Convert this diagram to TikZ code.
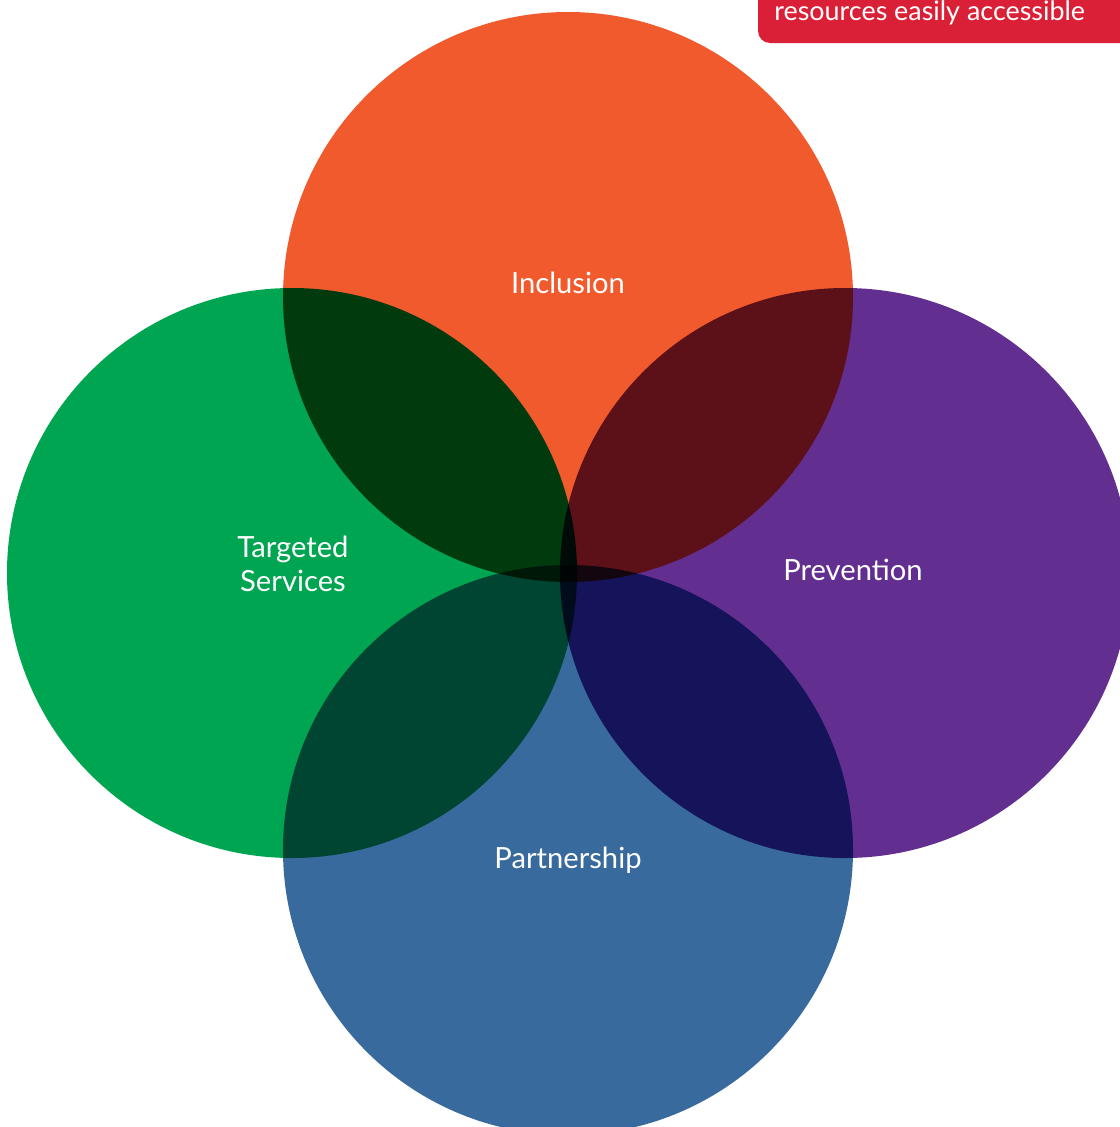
\documentclass[tikz,border=0pt]{standalone}
\usepackage{fontspec}
\setmainfont{Lato}
\definecolor{incorange}{RGB}{240,90,44}
\definecolor{tsgreen}{RGB}{0,165,81}
\definecolor{prevpurple}{RGB}{98,46,144}
\definecolor{partblue}{RGB}{57,106,158}
\definecolor{tagred}{RGB}{218,32,54}
\tikzset{
  petal/.style={circle,inner sep=0,outer sep=0,minimum size=114mm},
  petallabel/.style={text=white,font=\fontsize{16.6}{19.3}\selectfont,align=center,inner sep=0},
}

\begin{document}
\begin{tikzpicture}[x=0.2mm,y=-0.2mm]
	\useasboundingbox (0,0) rectangle (1120,1127);
	% the four circles, overlaps darkened by multiply
	\begin{scope}[blend group=multiply]
		\node[petal,fill=incorange] (inc) at (568,297) {};
		\node[petal,fill=tsgreen] (ts) at (292,573) {};
		\node[petal,fill=prevpurple] (prev) at (845,573) {};
		\node[petal,fill=partblue] (part) at (568,850) {};
	\end{scope}
	\node[petallabel] (inclabel) at (568,283) {Inclusion};
	\node[petallabel] (tslabel) at (293,564) {Targeted\\Services};
	\node[petallabel] (prevlabel) at (853,570) {Prevention};
	\node[petallabel] (partlabel) at (568,860) {Partnership};
	% tab at the top right
	\fill[tagred,rounded corners=2.4mm] (758,-60) rectangle (1180,43);
	\node[text=white,font=\fontsize{15.3}{16}\selectfont,anchor=base west,inner sep=0] (tag) at (774,20) {resources easily accessible};
\end{tikzpicture}
\end{document}
